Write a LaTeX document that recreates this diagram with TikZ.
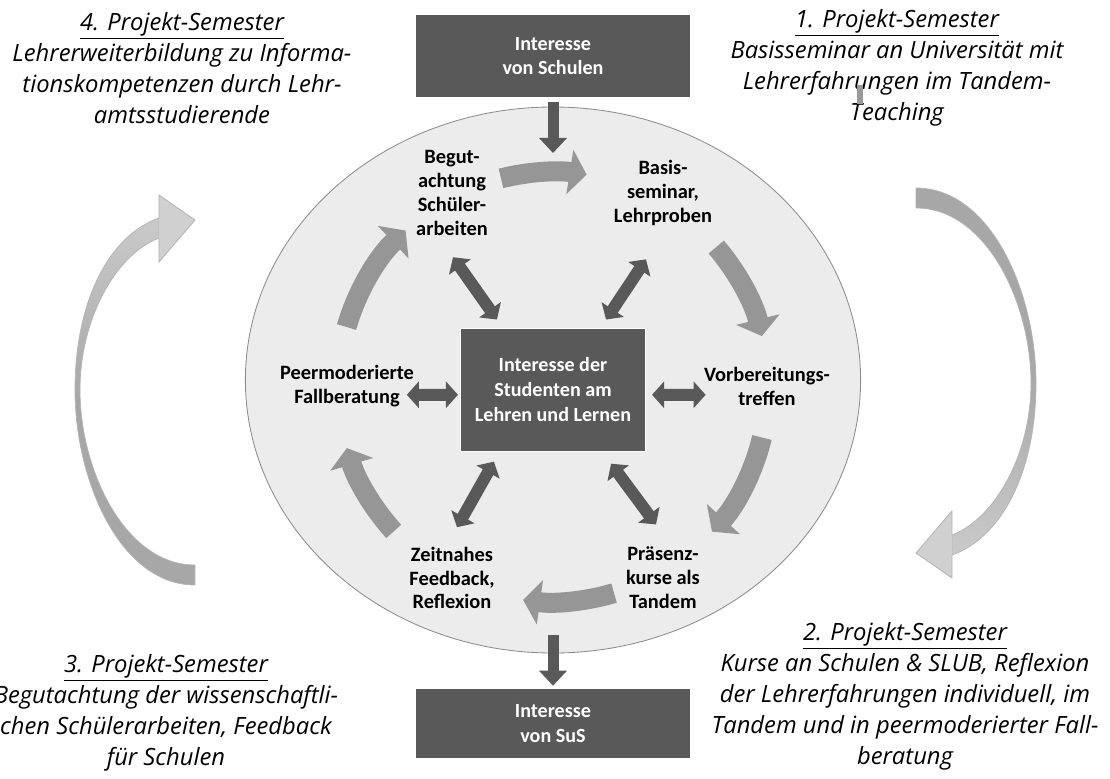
\documentclass[tikz,border=0pt]{standalone}
\usepackage{fontspec}
\setmainfont{Open Sans}
\newfontfamily\calibri{Carlito}
\usetikzlibrary{arrows.meta,shapes.geometric}

\definecolor{boxgray}{HTML}{595959}
\definecolor{ringgray}{HTML}{ECECEC}
\definecolor{ringline}{HTML}{8C8C8C}
\definecolor{cyclegray}{HTML}{969696}
\definecolor{bandgray}{HTML}{A7A7A7}
\definecolor{bandlight}{HTML}{CACACA}
\definecolor{headgray}{HTML}{D1D0D1}
\definecolor{headline}{HTML}{B3B3B3}
\definecolor{markgray}{HTML}{9A9A9A}

\begin{document}
\begin{tikzpicture}[
	phase/.style={font=\calibri\bfseries\fontsize{14.5}{17}\selectfont, align=center, inner sep=1pt},
	darkbox/.style={fill=boxgray, text=white, font=\calibri\bfseries\fontsize{14.3}{17.5}\selectfont, align=center, minimum width=6.85cm},
	semtext/.style={font=\itshape\fontsize{16.9}{22}\selectfont, align=center},
	dblarrow/.style={boxgray, line width=0.3cm, arrows={Triangle[width=0.65cm,length=0.3cm]-Triangle[width=0.65cm,length=0.3cm]}},
	inarrow/.style={boxgray, line width=0.275cm, arrows={-Triangle[width=0.675cm,length=0.375cm]}},
	cyclearrow/.style={cyclegray, line width=0.5cm, arrows={-Triangle[width=1.1cm,length=0.425cm]}},
	bandstyle/.style={draw=headline, line width=.5pt},
	headstyle/.style={fill=headgray, draw=headline, line width=.6pt},
]
	\useasboundingbox (-13.825,-9.95) rectangle (13.925,9.5);

	\node[ellipse, fill=ringgray, draw=ringline, line width=.6pt, minimum width=15.38cm, minimum height=13.65cm, inner sep=0pt] (ring) at (0,0) {};

	\shade[bandstyle, top color=bandlight, bottom color=bandgray, middle color=bandgray] (-8.95,-5.125) .. controls (-10.825,-5.125) and (-11.95,-2.5) .. (-11.95,-0.25) .. controls (-11.95,2.0) and (-11.075,3.625) .. (-9.85,4.05) -- (-9.85,3.55) .. controls (-10.95,3.125) and (-11.825,1.5) .. (-11.825,-0.25) .. controls (-11.825,-2.25) and (-10.7,-4.625) .. (-8.95,-4.625) -- cycle;
	\filldraw[headstyle] (-9.85,4.05) -- (-9.85,4.625) -- (-8.95,4.0) -- (-9.85,2.95) -- (-9.85,3.55);
	\shade[bandstyle, top color=bandgray, bottom color=bandlight, middle color=bandgray] (9.075,4.8) .. controls (10.95,4.8) and (12.075,2.175) .. (12.075,-0.075) .. controls (12.075,-2.325) and (11.2,-3.95) .. (9.975,-4.375) -- (9.975,-3.875) .. controls (11.075,-3.45) and (11.95,-1.825) .. (11.95,-0.075) .. controls (11.95,1.925) and (10.825,4.3) .. (9.075,4.3) -- cycle;
	\filldraw[headstyle] (9.975,-4.375) -- (9.975,-4.95) -- (9.075,-4.325) -- (9.975,-3.275) -- (9.975,-3.875);

	\node[darkbox, minimum height=2.05cm] (schulbox) at (0,8.1) {Interesse\\von Schulen};
	\node[darkbox, minimum height=1.725cm] (susbox) at (0,-8.5875) {Interesse\\von SuS};
	\node[darkbox, minimum width=4.625cm, minimum height=3.075cm, draw=white, line width=.8pt] (studbox) at (0,-0.24) {Interesse der\\Studenten am\\Lehren und Lernen};

	\node[phase] (begut) at (-2.525,4.675) {Begut-\\achtung\\Schüler-\\arbeiten};
	\node[phase] (basis) at (2.75,4.675) {Basis-\\seminar,\\Lehrproben};
	\node[phase] (vorb) at (5.35,-0.15) {Vorbereitungs-\\treffen};
	\node[phase] (praesenz) at (2.75,-4.95) {Präsenz-\\kurse als\\Tandem};
	\node[phase] (zeitnah) at (-2.525,-4.95) {Zeitnahes\\Feedback,\\Reflexion};
	\node[phase] (peer) at (-5.15,-0.15) {Peermoderierte\\Fallberatung};

	\node[semtext] (sem4) at (-9.275,7.8) {\underline{4. Projekt-Semester}\\Lehrerweiterbildung zu Informa-\\tionskompetenzen durch Lehr-\\amtsstudierende};
	\node[semtext] (sem1) at (8.6,7.8) {\underline{1. Projekt-Semester}\\Basisseminar an Universität mit\\Lehrerfahrungen im Tandem-\\Teaching};
	\node[semtext] (sem3) at (-9.675,-8.325) {\underline{3. Projekt-Semester}\\Begutachtung der wissenschaftli-\\chen Schülerarbeiten, Feedback\\für Schulen};
	\node[semtext] (sem2) at (8.8,-7.9) {\underline{2. Projekt-Semester}\\Kurse an Schulen \& SLUB, Reflexion\\der Lehrerfahrungen individuell, im\\Tandem und in peermoderierter Fall-\\beratung};
	\fill[markgray] (7.61,7.375) rectangle (7.74,6.9);

	\coordinate (hub) at (0,-0.175);
	\coordinate (entry) at (0,5.675);
	\draw[inarrow, shorten <=0.125cm] (schulbox.south) -- (entry);
	\draw[inarrow, shorten >=0.075cm] ([yshift=0.45cm]ring.south) -- (susbox.north);

	\draw[cyclearrow] ([shift={(104:5.375)}]hub) arc[start angle=104, end angle=81, radius=5.375];
	\draw[cyclearrow] ([shift={(40.6:5.375)}]hub) arc[start angle=40.6, end angle=13.7, radius=5.375];
	\draw[cyclearrow] ([shift={(-13.6:5.375)}]hub) arc[start angle=-13.6, end angle=-42.3, radius=5.375];
	\draw[cyclearrow] ([shift={(-73.5:5.375)}]hub) arc[start angle=-73.5, end angle=-98, radius=5.375];
	\draw[cyclearrow] ([shift={(222.2:5.375)}]hub) arc[start angle=222.2, end angle=196.5, radius=5.375];
	\draw[cyclearrow] ([shift={(163.8:5.375)}]hub) arc[start angle=163.8, end angle=133.3, radius=5.375];

	\draw[dblarrow] ([shift={(0.925,0.2)}]studbox.north west) -- ([shift={(0.025,-0.5)}]begut.south);
	\draw[dblarrow] ([shift={(-1.0,0.2)}]studbox.north east) -- ([shift={(-0.425,-0.8)}]basis.south);
	\draw[dblarrow] ([shift={(0.85,-0.25)}]studbox.south west) -- ([shift={(0.125,0.45)}]zeitnah.north);
	\draw[dblarrow] ([shift={(-0.875,-0.3)}]studbox.south east) -- ([shift={(-0.175,0.525)}]praesenz.north);
	\draw[dblarrow] ([shift={(-0.05,-0.13)}]studbox.west) -- ([shift={(-0.22,-0.22)}]peer.east);
	\draw[dblarrow] ([shift={(0.15,-0.13)}]studbox.east) -- ([shift={(0.08,-0.22)}]vorb.west);
\end{tikzpicture}
\end{document}
